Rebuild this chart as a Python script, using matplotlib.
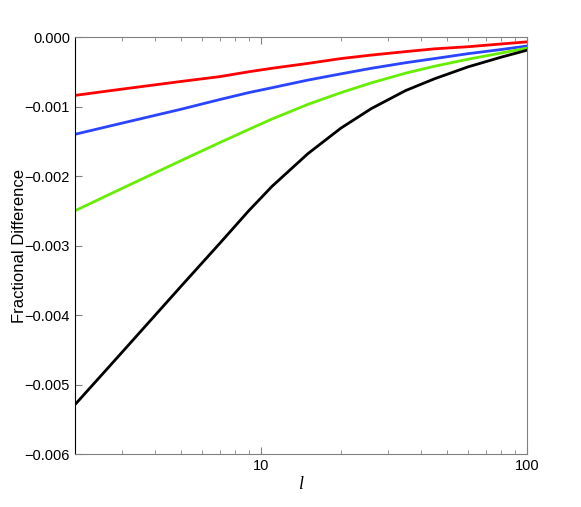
import numpy as np
import matplotlib
matplotlib.use("Agg")
import matplotlib.pyplot as plt
from matplotlib.ticker import FuncFormatter, FixedLocator

# multipolo l e diferença fracional de cada curva
ell = [2, 3, 5, 7, 9, 11, 15, 20, 26, 35, 45, 60, 80, 100]
black = [-0.00529, -0.00454, -0.00359, -0.00297, -0.00250, -0.00215, -0.00168,
         -0.00131, -0.00103, -0.00077, -0.00060, -0.00043, -0.00029, -0.00019]
green = [-0.00250, -0.00218, -0.00178, -0.00152, -0.00133, -0.00118, -0.00097,
         -0.00080, -0.00066, -0.00052, -0.00042, -0.00032, -0.00023, -0.00016]
blue = [-0.00140, -0.00124, -0.00104, -0.00090, -0.00080, -0.00073, -0.00062,
        -0.00053, -0.00045, -0.00037, -0.00031, -0.00024, -0.00018, -0.00013]
red = [-0.00084, -0.00075, -0.00064, -0.00057, -0.00050, -0.00045, -0.00038,
       -0.00031, -0.00026, -0.00021, -0.00017, -0.00014, -0.00010, -0.00007]

plt.rcParams['font.family'] = ['Liberation Sans', 'DejaVu Sans']

fig = plt.figure(figsize=(5.81, 5.07), dpi=100)
ax = fig.add_axes([0.129, 0.1045, 0.778, 0.8225])

ax.plot(ell, red, color='#ff0000', lw=2.0)
ax.plot(ell, blue, color='#2a44ff', lw=2.0)
ax.plot(ell, green, color='#66ee00', lw=2.0)
ax.plot(ell, black, color='black', lw=2.0)

ax.set_xscale('log')
ax.set_xlim(2, 100)
ax.set_ylim(-0.006, 0.0)

ax.xaxis.set_major_locator(FixedLocator([10, 100]))
ax.xaxis.set_minor_locator(FixedLocator([3, 4, 5, 6, 7, 8, 9, 20, 30, 40, 50, 60, 70, 80, 90]))
ax.xaxis.set_major_formatter(FuncFormatter(lambda v, p: f"{v:g}"))
ax.xaxis.set_minor_formatter(FuncFormatter(lambda v, p: ""))
ax.set_yticks(np.arange(-0.006, 0.0001, 0.001))
ax.yaxis.set_major_formatter(FuncFormatter(lambda v, p: f"{v:.3f}".replace('-', '\u2212')))

ax.tick_params(axis='both', which='both', direction='in', colors='#808080',
               labelcolor='black', labelsize=10.5)
ax.tick_params(axis='x', which='both', top=True)
ax.tick_params(axis='x', which='major', length=5)
ax.tick_params(axis='x', which='minor', length=3)
ax.tick_params(axis='y', which='major', length=5)

for s in ['top', 'right', 'bottom']:
    ax.spines[s].set_color('#808080')
ax.spines['left'].set_color('black')

ax.set_ylabel('Fractional Difference', fontsize=12, labelpad=-2)
ax.set_xlabel('l', fontsize=13, fontstyle='italic', family='Liberation Serif', labelpad=2)

fig.savefig('out.png', dpi=100)
